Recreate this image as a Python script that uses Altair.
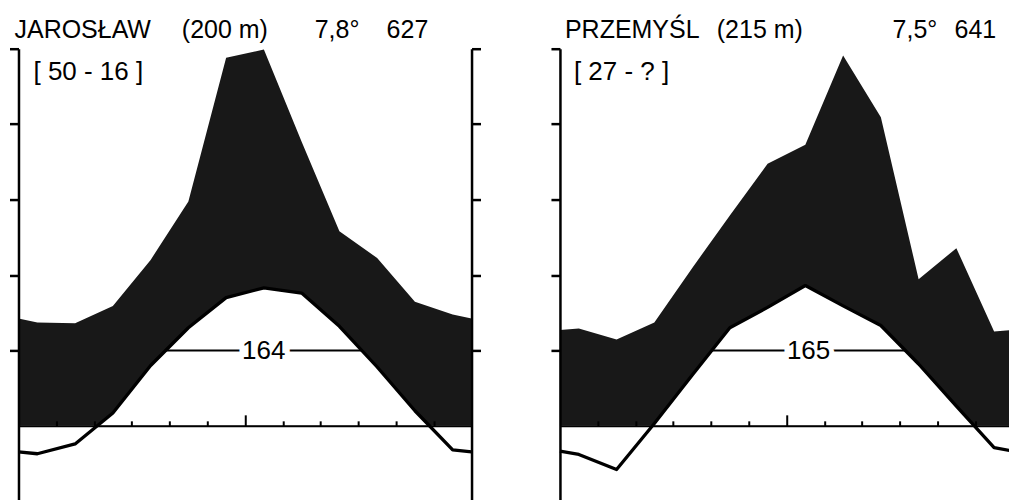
import altair as alt
import pandas as pd

# ---------------- data ----------------
months = ["I", "II", "III", "IV", "V", "VI", "VII", "VIII", "IX", "X", "XI", "XII"]

jar_temp = [-3.7, -2.4, 1.7, 8.0, 13.0, 17.0, 18.3, 17.6, 13.2, 7.8, 2.0, -3.2]
jar_prec = [27.4, 27.2, 31.8, 44.0, 59.5, 97.6, 99.8, 75.3, 51.6, 44.5, 32.9, 29.5]

prz_temp = [-3.8, -5.8, 0.3, 6.7, 13.0, 15.7, 18.6, 15.9, 13.3, 8.2, 2.6, -2.9]
prz_prec = [25.8, 22.9, 27.4, 41.8, 55.8, 69.5, 74.5, 98.2, 81.8, 38.9, 47.1, 25.0]

jar_info = ["JAROSŁAW", "(200 m)", "7,8°", "627", "[ 50 - 16 ]"]
prz_info = ["PRZEMYŚL", "(215 m)", "7,5°", "641", "[ 27 - ? ]"]
jar_days = "164"
prz_days = "165"

# ---------------- layout ----------------
W = 453.5
H = 453.0
GAP = 88
Y_DOMAIN = [-10, 50]
FONT = "Liberation Sans, Arial, sans-serif"
FILL = "#181818"
ANCHOR = 16  # invisible bounds anchor distance (px) outside the plot area


def station_frame(temp, prec):
    pos = [0.0] + [i + 0.5 for i in range(12)] + [12.0]
    t_edge = (temp[0] + temp[-1]) / 2
    p_edge = (prec[0] + prec[-1]) / 2
    t = [t_edge] + list(temp) + [t_edge]
    p = [p_edge] + list(prec) + [p_edge]
    return pd.DataFrame({"pos": pos, "temp": t, "prec2": [v / 2 for v in p]})


def crossings(df, level):
    xs, ts = list(df["pos"]), list(df["temp"])
    pts = []
    for i in range(len(xs) - 1):
        a, b = ts[i], ts[i + 1]
        if (a - level) * (b - level) < 0:
            f = (level - a) / (b - a)
            pts.append(xs[i] + f * (xs[i + 1] - xs[i]))
    return pts[0], pts[-1]


xscale = alt.Scale(domain=[0, 12], nice=False, zero=False)
yscale = alt.Scale(domain=Y_DOMAIN, nice=False, zero=False)

x_axis = alt.Axis(
    orient="top",
    offset=-H * Y_DOMAIN[1] / (Y_DOMAIN[1] - Y_DOMAIN[0]),
    values=list(range(1, 12)),
    tickSize={"condition": {"test": "datum.value == 6", "value": 11}, "value": 5},
    tickColor="black",
    tickWidth=2,
    domainColor="black",
    domainWidth=2,
    labels=False,
    title=None,
    grid=False,
    zindex=1,
)


def y_axis(orient):
    return alt.Axis(
        orient=orient,
        values=[-10, 10, 20, 30, 40, 50],
        tickSize=9,
        tickWidth=2.5,
        tickColor="black",
        domainColor="black",
        domainWidth=2.5,
        labels=False,
        title=None,
        grid=False,
        zindex=1,
    )


def X(field="pos"):
    return alt.X(f"{field}:Q", scale=xscale, axis=x_axis)


def text_layer(label, px, py, size=25):
    return alt.Chart(pd.DataFrame({"label": [label]})).mark_text(
        align="left", baseline="alphabetic", font=FONT, fontSize=size, color="black"
    ).encode(x=alt.value(px), y=alt.value(py), text="label:N")


def anchor(px, py):
    return alt.Chart(pd.DataFrame({"a": [0]})).mark_rule(strokeWidth=0, opacity=0).encode(
        x=alt.value(px), x2=alt.value(px), y=alt.value(py), y2=alt.value(py)
    )


def panel(temp, prec, info, days, xs_title, anchor_x):
    df = station_frame(temp, prec)
    x1, x2 = crossings(df, 10)
    line_df = pd.DataFrame({"pos": [x1], "pos2": [x2], "mid": [(x1 + x2) / 2], "label": [days]})

    base = alt.Chart(df)
    prec_area = base.mark_area(color=FILL, interpolate="linear").encode(
        x=X(), y=alt.Y("prec2:Q", scale=yscale, axis=y_axis("left")), y2=alt.datum(0)
    )
    white_area = base.mark_area(color="white", interpolate="linear").encode(
        x=X(), y=alt.Y("temp:Q", scale=yscale, axis=None), y2=alt.datum(0)
    )
    rule10 = alt.Chart(line_df).mark_rule(color="black", strokeWidth=2).encode(
        x=X(), x2="pos2:Q", y=alt.YDatum(10, scale=yscale, axis=None)
    )
    halo = alt.Chart(line_df).mark_text(
        font=FONT, fontSize=26, color="white", stroke="white", strokeWidth=10,
        baseline="middle", align="center", dy=1
    ).encode(x=X("mid"), y=alt.YDatum(10, scale=yscale, axis=None), text="label:N")
    label = alt.Chart(line_df).mark_text(
        font=FONT, fontSize=26, color="black", baseline="middle", align="center", dy=1
    ).encode(x=X("mid"), y=alt.YDatum(10, scale=yscale, axis=None), text="label:N")
    temp_line = base.mark_line(color="black", strokeWidth=3.3, strokeJoin="round").encode(
        x=X(), y=alt.Y("temp:Q", scale=yscale, axis=y_axis("right"))
    )

    titles = [
        text_layer(info[0], xs_title[0], -11),
        text_layer(info[1], xs_title[1], -11),
        text_layer(info[2], xs_title[2], -11),
        text_layer(info[3], xs_title[3], -11),
        text_layer(info[4], xs_title[4], 31, size=26),
    ]

    return alt.layer(
        prec_area, white_area, rule10, halo, label, temp_line, *titles,
        anchor(anchor_x, -46),
    ).resolve_axis(y="independent").properties(width=W, height=H)


left = panel(jar_temp, jar_prec, jar_info, jar_days, [-4, 163.5, 296.5, 368.5, 15], -ANCHOR)
right = panel(prz_temp, prz_prec, prz_info, prz_days, [5, 157, 333, 395, 14], W + ANCHOR)

# content spans from -ANCHOR to 2W+GAP+ANCHOR; page margin is 8px on each side,
# so the svg is kept 1001px wide to avoid horizontal overflow of the page
pad_left = 10.5 - ANCHOR
pad_top = 40.5 - 46
svg_width = 1017 - 16
pad_right = svg_width - (2 * W + GAP + 2 * ANCHOR) - pad_left

chart = alt.hconcat(left, right, spacing=GAP, bounds="flush").properties(
    padding={"left": pad_left, "top": pad_top, "right": pad_right, "bottom": 0},
).configure_view(stroke=None)

chart.save("out.html", embed_options={"renderer": "svg", "actions": False})
